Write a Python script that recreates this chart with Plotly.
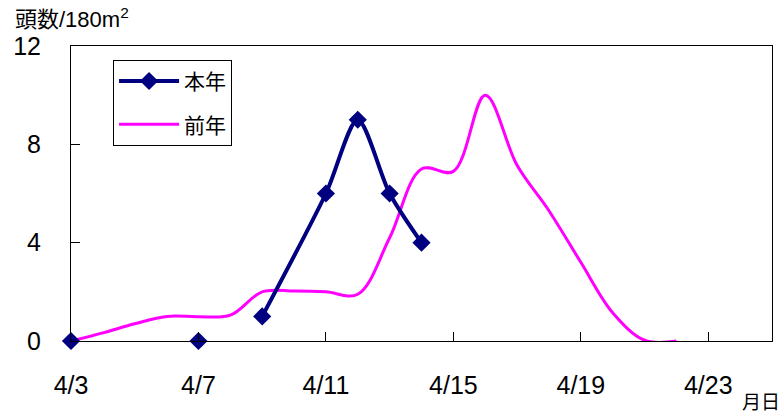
import plotly.graph_objects as go

# survey counts for the current season (頭数/180m²)
this_dates = ["2024-04-03", "2024-04-07", "2024-04-09", "2024-04-11",
              "2024-04-12", "2024-04-13", "2024-04-14"]
this_counts = [0, 0, 1, 6, 9, 6, 4]

# daily counts for the previous season
last_dates = ["2024-04-03", "2024-04-04", "2024-04-05", "2024-04-06", "2024-04-07",
              "2024-04-08", "2024-04-09", "2024-04-10", "2024-04-11", "2024-04-12",
              "2024-04-13", "2024-04-14", "2024-04-15", "2024-04-16", "2024-04-17",
              "2024-04-18", "2024-04-19", "2024-04-20", "2024-04-21", "2024-04-22"]
last_counts = [0, 0.33, 0.7, 1.0, 0.99, 1.05, 2.0, 2.03, 2.0, 1.9,
               4.2, 7.0, 6.9, 10.0, 7.15, 5.3, 3.2, 1.15, 0.03, 0.0]

tick_dates = ["2024-04-03", "2024-04-07", "2024-04-11", "2024-04-15",
              "2024-04-19", "2024-04-23"]
tick_labels = ["4/3", "4/7", "4/11", "4/15", "4/19", "4/23"]
y_ticks = [0, 4, 8, 12]

NAVY = "#000080"
MAGENTA = "#FF00FF"
FONT = "Arial, 'Liberation Sans', 'Noto Sans CJK JP', sans-serif"

fig = go.Figure()

# previous season, smoothed daily line
fig.add_trace(go.Scatter(
    x=last_dates, y=last_counts, name="前年",
    mode="lines", line=dict(color=MAGENTA, width=3, shape="spline", smoothing=1.0),
    cliponaxis=False, legendgroup="b", legendrank=2,
))
# connected run of the current season (from 4/9 on), smoothed
fig.add_trace(go.Scatter(
    x=this_dates[2:], y=this_counts[2:], name="本年",
    mode="lines+markers", line=dict(color=NAVY, width=4, shape="spline", smoothing=0.8),
    marker=dict(symbol="diamond", size=14, color=NAVY),
    cliponaxis=False, legendgroup="a", legendrank=1,
))
# isolated early survey points
fig.add_trace(go.Scatter(
    x=this_dates[:2], y=this_counts[:2], name="本年", showlegend=False,
    mode="markers", marker=dict(symbol="diamond", size=14, color=NAVY),
    cliponaxis=False, legendgroup="a",
))

fig.update_layout(
    width=781, height=413,
    margin=dict(l=71, r=9, t=46, b=72),
    paper_bgcolor="white", plot_bgcolor="white",
    font=dict(family=FONT, size=25, color="black"),
    showlegend=True,
    legend=dict(
        x=0.06, y=0.953, xanchor="left", yanchor="top",
        bgcolor="white", bordercolor="black", borderwidth=1,
        font=dict(size=21), traceorder="grouped", tracegroupgap=13,
        itemwidth=60, entrywidth=135, entrywidthmode="pixels",
    ),
    xaxis=dict(
        type="date", range=["2024-04-03", "2024-04-25"],
        tickvals=tick_dates, ticktext=tick_labels,
        ticks="inside", ticklen=9, tickcolor="black",
        showline=True, linecolor="black", linewidth=1, mirror=True,
        showgrid=False, zeroline=False, ticklabelstandoff=22,
    ),
    yaxis=dict(
        range=[0, 12], tickvals=y_ticks,
        ticks="inside", ticklen=9, tickcolor="black",
        showline=True, linecolor="black", linewidth=1, mirror=True,
        showgrid=False, zeroline=False, ticklabelstandoff=24,
    ),
    annotations=[
        dict(text="頭数/180m<sup>2</sup>", xref="paper", yref="paper",
             x=-0.083, y=1.095, xanchor="left", yanchor="middle",
             showarrow=False, font=dict(size=22)),
        dict(text="月日", xref="paper", yref="paper",
             x=0.954, y=-0.21, xanchor="left", yanchor="middle",
             showarrow=False, font=dict(size=19)),
    ],
)

fig.write_html("out.html")
